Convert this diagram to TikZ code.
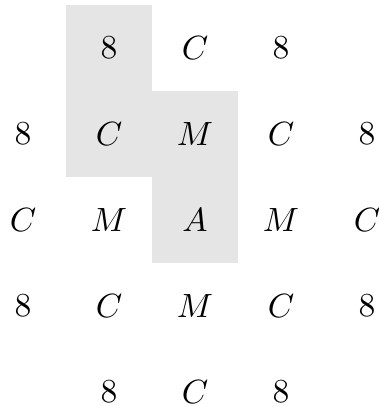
\documentclass[tikz,border=0pt]{standalone}
\usepackage{amsmath,amssymb}
\usepackage{tikz}
\usetikzlibrary{positioning}

\tikzset{cellfill/.style={fill=gray!20, draw=none}}

\begin{document}
\begin{tikzpicture}[x=0.9cm, y=0.9cm, every node/.style={font=\normalsize}]
    \useasboundingbox (-0.267,0.558) rectangle (4.14,-4.163);

    % shaded cells
    \fill[cellfill] (0.5,0.5) rectangle (1.5,-1.5);
    \fill[cellfill] (1.5,-0.5) rectangle (2.5,-2.5);

    % grid entries
    \foreach \c/\r/\lab in {1/0/8, 2/0/C, 3/0/8,
                            0/1/8, 1/1/C, 2/1/M, 3/1/C, 4/1/8,
                            0/2/C, 1/2/M, 2/2/A, 3/2/M, 4/2/C,
                            0/3/8, 1/3/C, 2/3/M, 3/3/C, 4/3/8,
                            1/4/8, 2/4/C, 3/4/8}
        \node (g\c\r) at (\c,-\r) {$\lab$};
\end{tikzpicture}
\end{document}
